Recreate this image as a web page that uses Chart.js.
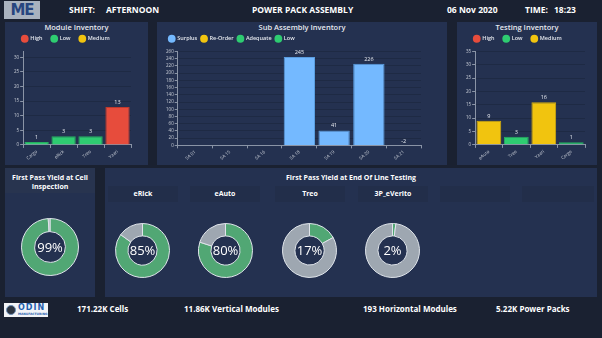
<!DOCTYPE html>
<html>
<head>
<meta charset="utf-8">
<script src="https://cdn.jsdelivr.net/npm/chart.js@4.4.0/dist/chart.umd.min.js"></script>
<style>
body { margin: 0; width: 602px; height: 338px; background: #1a2131; font-family: 'Open Sans', sans-serif; color: #fff; position: relative; overflow: hidden; }
.panel { position: absolute; background: #243150; }
.top { position: absolute; top: 4px; font-size: 8.5px; font-weight: 700; white-space: nowrap; }
.foot { position: absolute; top: 303px; font-size: 8px; font-weight: 700; white-space: nowrap; }
.logo { position: absolute; left: 4px; top: 1px; width: 36px; height: 18px; background: #a9b2bf; color: #27457f; font: 900 15px 'DejaVu Sans', sans-serif; line-height: 18px; text-align: center; letter-spacing: -1px; }
.odin { position: absolute; left: 4px; top: 303px; width: 44px; height: 14px; background: #f2f4f7; }
.odin .dot { position: absolute; left: 2px; top: 2px; width: 10px; height: 10px; border-radius: 50%; background: #2c3440; border: 1px solid #6d8fb8; box-sizing: border-box; }
.odin .name { position: absolute; left: 14px; top: 0; font: 900 8px 'DejaVu Sans', sans-serif; color: #1f5fae; letter-spacing: 1px; }
.odin .sub { position: absolute; left: 14px; top: 9px; font: 700 3px 'DejaVu Sans', sans-serif; color: #1f5fae; }
.ttl { position: absolute; font-size: 7px; font-weight: 700; text-align: center; white-space: nowrap; }
.ctl { position: absolute; top: 22px; font-size: 7.5px; font-weight: 600; color: #e6e9ef; text-align: center; line-height: 10px; }
.box { position: absolute; top: 186px; height: 16px; background: #222e4a; font-size: 7px; font-weight: 700; text-align: center; line-height: 16px; }
canvas { position: absolute; }
</style>
</head>
<body>
<div class="logo">ME</div>
<div class="top" style="left:69px">SHIFT:</div>
<div class="top" style="left:106px">AFTERNOON</div>
<div class="top" style="left:252px">POWER PACK ASSEMBLY</div>
<div class="top" style="left:447px">06 Nov 2020</div>
<div class="top" style="left:525px">TIME:</div>
<div class="top" style="left:554px">18:23</div>

<div class="panel" style="left:5px;top:22px;width:143px;height:143px"></div>
<div class="panel" style="left:157px;top:22px;width:290px;height:143px"></div>
<div class="panel" style="left:457px;top:22px;width:140px;height:143px"></div>
<div class="ctl" style="left:5px;width:143px">Module Inventory</div>
<div class="ctl" style="left:157px;width:290px">Sub Assembly Inventory</div>
<div class="ctl" style="left:457px;width:140px">Testing Inventory</div>
<canvas id="moduleChart" width="143" height="143" style="left:5px;top:22px"></canvas>
<canvas id="subChart" width="290" height="143" style="left:157px;top:22px"></canvas>
<canvas id="testingChart" width="140" height="143" style="left:457px;top:22px"></canvas>

<div class="panel" style="left:5px;top:168px;width:90px;height:129px"></div>
<div class="panel" style="left:5px;top:168px;width:90px;height:25px;background:#28344f"></div>
<div class="ttl" style="left:5px;width:90px;top:173px;line-height:9px">First Pass Yield at Cell<br>Inspection</div>
<canvas id="cellYield" width="58" height="58" style="left:21px;top:218px"></canvas>

<div class="panel" style="left:105px;top:168px;width:492px;height:129px"></div>
<div class="ttl" style="left:105px;width:492px;top:173px">First Pass Yield at End Of Line Testing</div>
<div class="box" style="left:108px;width:70px">eRick</div>
<div class="box" style="left:190px;width:70px">eAuto</div>
<div class="box" style="left:275px;width:70px">Treo</div>
<div class="box" style="left:358px;width:70px">3P_eVerito</div>
<div class="box" style="left:440px;width:70px"></div>
<div class="box" style="left:522px;width:72px"></div>
<canvas id="eol0" width="55" height="55" style="left:115px;top:223px"></canvas>
<canvas id="eol1" width="55" height="55" style="left:198px;top:223px"></canvas>
<canvas id="eol2" width="55" height="55" style="left:282px;top:223px"></canvas>
<canvas id="eol3" width="55" height="55" style="left:365px;top:223px"></canvas>

<div class="odin"><div class="dot"></div><div class="name">ODIN</div><div class="sub">MANUFACTURING</div></div>
<div class="foot" style="left:77px">171.22K Cells</div>
<div class="foot" style="left:184px">11.86K Vertical Modules</div>
<div class="foot" style="left:363px">193 Horizontal Modules</div>
<div class="foot" style="left:496px">5.22K Power Packs</div>

<script>
const moduleLabels = ['Cargo', 'eRick', 'Treo', 'Yaari'];
const moduleValues = [1, 3, 3, 13];
const moduleStatus = ['Low', 'Low', 'Low', 'High'];
const moduleLegend = ['High', 'Low', 'Medium'];

const subLabels = ['SA 01', 'SA 15', 'SA 16', 'SA 18', 'SA 19', 'SA 20', 'SA 21'];
const subValues = [null, null, null, 245, 41, 226, -2];
const subStatus = ['Surplus', 'Surplus', 'Surplus', 'Surplus', 'Surplus', 'Surplus', 'Surplus'];
const subLegend = ['Surplus', 'Re-Order', 'Adequate', 'Low'];

const testingLabels = ['eAuto', 'Treo', 'Yaari', 'Cargo'];
const testingValues = [9, 3, 16, 1];
const testingStatus = ['Medium', 'Low', 'Medium', 'Low'];
const testingLegend = ['High', 'Low', 'Medium'];

const cellYield = 99;
const eolLabels = ['eRick', 'eAuto', 'Treo', '3P_eVerito'];
const eolYield = [85, 80, 17, 2];

const STATUS = {
    'High': '#e74c3c',
    'Low': '#2ecc71',
    'Medium': '#f1c40f',
    'Surplus': '#74b9ff',
    'Re-Order': '#f1c40f',
    'Adequate': '#2ecc71'
};
const BORDER = { 'Surplus': '#5a9de0', 'Low': '#27ae60', 'High': '#c0392b', 'Medium': '#d4ac0d' };
const GRID  = 'rgba(0,0,0,0.14)';
const AXIS  = '#8a94a6';
const TEXT  = '#e6e9ef';
const GREEN = '#51a774';
const GRAY  = '#9ea7b1';

Chart.defaults.font.family = "'Open Sans', sans-serif";
Chart.defaults.color = TEXT;
Chart.defaults.animation = false;

// numbers printed over each bar
const valueLabels = {
    id: 'valueLabels',
    afterDatasetsDraw(chart) {
        const ctx = chart.ctx;
        const data = chart.data.datasets[0].data;
        ctx.save();
        ctx.font = "5.5px 'Open Sans'";
        ctx.fillStyle = TEXT;
        ctx.textAlign = 'center';
        ctx.textBaseline = 'bottom';
        chart.getDatasetMeta(0).data.forEach((bar, i) => {
            if (data[i] === null) return;
            ctx.fillText(data[i], bar.x, Math.min(bar.y, bar.base) - 2);
        });
        ctx.restore();
    }
};

// percentage in the hole of a doughnut
const centerText = {
    id: 'centerText',
    afterDraw(chart) {
        const arc = chart.getDatasetMeta(0).data[0];
        const ctx = chart.ctx;
        ctx.save();
        ctx.font = "13px 'Open Sans'";
        ctx.fillStyle = '#ffffff';
        ctx.textAlign = 'center';
        ctx.textBaseline = 'middle';
        ctx.fillText(chart.data.datasets[0].data[0] + '%', arc.x, arc.y + 1);
        ctx.restore();
    }
};

function barChart(id, labels, values, status, legend, max, step, legendPad, padTop, padRight) {
    new Chart(document.getElementById(id), {
        type: 'bar',
        data: {
            labels: labels,
            datasets: [{
                data: values,
                backgroundColor: status.map(s => STATUS[s]),
                borderColor: status.map(s => BORDER[s]),
                borderWidth: 1,
                barPercentage: 0.92,
                categoryPercentage: 0.98
            }]
        },
        options: {
            responsive: false,
            layout: { padding: { left: 8, right: padRight, top: padTop, bottom: 3 } },
            plugins: {
                tooltip: { enabled: false },
                legend: {
                    align: 'start',
                    labels: {
                        usePointStyle: true, pointStyle: 'circle',
                        boxWidth: 6, boxHeight: 6, padding: legendPad,
                        color: TEXT, font: { size: 5.5, weight: '600' },
                        generateLabels: () => legend.map(name => ({
                            text: name, fillStyle: STATUS[name], strokeStyle: STATUS[name],
                            lineWidth: 0, pointStyle: 'circle', fontColor: TEXT
                        }))
                    }
                }
            },
            scales: {
                x: {
                    grid: { drawOnChartArea: false, color: AXIS, tickLength: 3 },
                    border: { color: AXIS },
                    ticks: { color: '#c8cdd6', font: { size: 4.5 }, minRotation: 40, maxRotation: 40, padding: 1 }
                },
                y: {
                    min: 0, max: max,
                    grid: { color: GRID, tickLength: 3, tickColor: AXIS },
                    border: { color: AXIS },
                    ticks: { stepSize: step, autoSkip: false, color: '#c8cdd6', font: { size: 4.5 }, padding: 1 },
                    afterBuildTicks: scale => {
                        scale.ticks = scale.ticks.filter(t => t.value % step === 0);
                    }
                }
            }
        },
        plugins: [valueLabels]
    });
}

function yieldChart(id, value) {
    new Chart(document.getElementById(id), {
        type: 'doughnut',
        data: {
            labels: ['Pass', 'Fail'],
            datasets: [{
                data: [value, 100 - value],
                backgroundColor: [GREEN, GRAY],
                borderColor: '#dfe4ea',
                borderWidth: 1
            }]
        },
        options: {
            responsive: false,
            cutout: '54%',
            plugins: { legend: { display: false }, tooltip: { enabled: false } }
        },
        plugins: [centerText]
    });
}

barChart('moduleChart', moduleLabels, moduleValues, moduleStatus, moduleLegend, 32, 5, 9, 5, 17);
barChart('subChart', subLabels, subValues, subStatus, subLegend, 260, 20, 4, 10, 26);
barChart('testingChart', testingLabels, testingValues, testingStatus, testingLegend, 35, 5, 9, 5, 12);

yieldChart('cellYield', cellYield);
eolYield.forEach((v, i) => yieldChart('eol' + i, v));
</script>
</body>
</html>
